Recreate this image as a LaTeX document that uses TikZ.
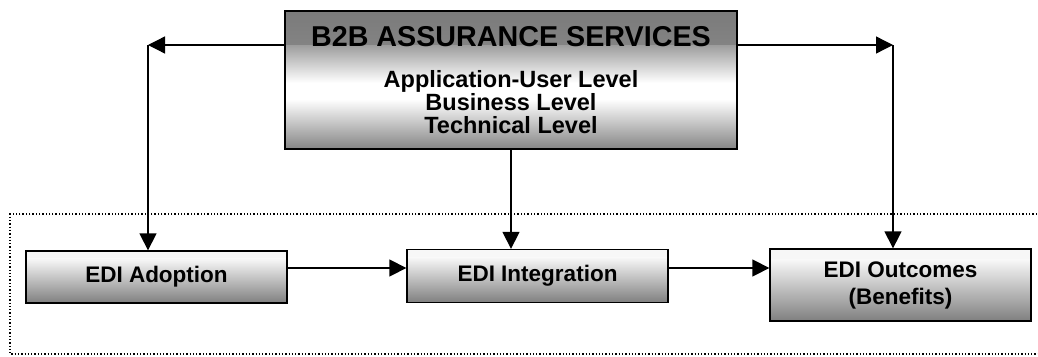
\documentclass[tikz,border=0pt]{standalone}
\usepackage{fontspec}
\setmainfont{Liberation Sans}
\usetikzlibrary{arrows.meta,calc}
\newcommand{\bandpt}[2]{($(path picture bounding box.north #1)!#2!(path picture bounding box.south #1)$)}
\tikzset{
  bigbox/.style={draw=black, line width=1.3pt, minimum width=452pt, minimum height=138pt, inner sep=0pt,
    font=\bfseries\fontsize{23.5}{23}\selectfont, align=center,
    path picture={
      \shade[top color=black!52, bottom color=black!38] \bandpt{west}{0} rectangle \bandpt{east}{0.25};
      \shade[top color=black!38, bottom color=white] \bandpt{west}{0.25} rectangle \bandpt{east}{0.52};
      \fill[white] \bandpt{west}{0.52} rectangle \bandpt{east}{0.64};
      \shade[top color=white, bottom color=black!48] \bandpt{west}{0.64} rectangle \bandpt{east}{1};
    }},
  stagebox/.style={draw=black, line width=1.3pt, minimum width=261pt, inner sep=0pt,
    font=\bfseries\fontsize{22.5}{27}\selectfont, align=center,
    path picture={
      \fill[black!3] \bandpt{west}{0} rectangle \bandpt{east}{0.15};
      \shade[top color=black!3, bottom color=black!50] \bandpt{west}{0.15} rectangle \bandpt{east}{1};
    }},
  conn/.style={line width=1.3pt, -{Triangle[length=17pt,width=17pt]}},
  frame/.style={line width=1.3pt, dotted}
}
\begin{document}
\begin{tikzpicture}[x=1pt,y=-1pt]
\useasboundingbox (0,0) rectangle (1038,356);
\draw[frame] (1050,214) -- (10,214) -- (10,354) -- (1050,354);
\node[bigbox] (big) at (511,80) {{\fontsize{28.7}{30}\selectfont B2B ASSURANCE SERVICES}\\[18pt]Application-User Level\\Business Level\\Technical Level};
\node[stagebox, minimum height=52pt] (adopt) at (156.5,277) {EDI Adoption};
\node[stagebox, minimum height=53pt] (integ) at (537.5,276) {EDI Integration};
\node[stagebox, minimum height=72pt] (outc) at (900.5,285) {EDI Outcomes\\(Benefits)};
\coordinate (cl) at (148,45);
\coordinate (cr) at (893,45);
\draw[conn] (big.west |- cl) -- (cl);
\draw[conn] (big.east |- cr) -- (cr);
\draw[conn] (cl) -- (adopt.north -| cl);
\draw[conn] (cr) -- (outc.north -| cr);
\draw[conn] (big.south) -- (integ.north -| big.south);
\draw[conn] (adopt.east |- 0,268) -- (integ.west |- 0,268);
\draw[conn] (integ.east |- 0,268) -- (outc.west |- 0,268);
\end{tikzpicture}
\end{document}
